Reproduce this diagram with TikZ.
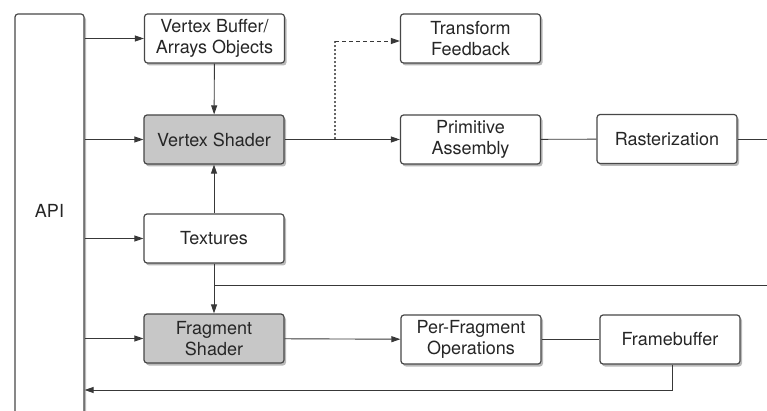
\documentclass[tikz,border=0pt]{standalone}
\usepackage{fontspec}
\setmainfont{TeX Gyre Heros}
\usetikzlibrary{arrows.meta,shadows}
\begin{document}
\begin{tikzpicture}[x=1pt,y=-1pt,
  box/.style={draw=black!72, line width=1.2pt, rounded corners=3pt, fill=white,
    minimum width=140pt, minimum height=49pt, inner sep=2pt, align=center,
    font=\fontsize{18}{21}\selectfont, text=black!85,
    drop shadow={shadow xshift=2pt, shadow yshift=-2.5pt, opacity=0.45, fill=black!60}},
  shaded/.style={box, fill=black!22},
  link/.style={draw=black!78, line width=0.9pt},
  arr/.style={link, -{Triangle[length=9pt,width=6pt]}},
]
\useasboundingbox (0,0) rectangle (767,411);
\clip (0,0) rectangle (767,411);

% API column (runs past the lower edge)
\node[box, minimum width=69pt, minimum height=420pt,
      label={[font=\fontsize{18}{21}\selectfont, text=black!85, yshift=13pt]center:API}]
      (api) at (49.5,224) {};

% left column
\node[box]    (vbo) at (214.5,38.5)  {Vertex Buffer/\\Arrays Objects};
\node[shaded] (vs)  at (214,139.5)   {Vertex Shader};
\node[box]    (tex) at (214,238.5)   {Textures};
\node[shaded] (fs)  at (214,338.5)   {Fragment\\Shader};

% right part of the pipeline
\node[box] (tf)   at (470.5,38.5)  {Transform\\Feedback};
\node[box] (pa)   at (470.5,139.5) {Primitive\\Assembly};
\node[box] (rast) at (667,139)     {Rasterization};
\node[box] (pfo)  at (471,339.5)   {Per-Fragment\\Operations};
\node[box] (fb)   at (670,339.5)   {Framebuffer};

% helper points
\coordinate (split)  at (335,139.5);
\coordinate (bend)   at (335,41);
\coordinate (rout)   at (775,139);
\coordinate (join)   at (214,285);
\coordinate (rin)    at (775,285);
\coordinate (fbturn) at (672,390);

% API feeds
\draw[arr] (api.east |- vbo) -- (vbo);
\draw[arr] (api.east |- vs)  -- (vs);
\draw[arr] (api.east |- tex) -- (tex);
\draw[arr] (api.east |- fs)  -- (fs);

% vertex path
\draw[arr] (vbo) -- (vs);
\draw[arr] (tex) -- (vs);
\draw[arr] (vs) -- (pa);
\draw[link, line width=1.2pt, draw=black!60, dash pattern=on 2pt off 2pt] (split) -- (bend);
\draw[arr, dash pattern=on 4pt off 3pt] (bend) -- (tf.west |- bend);
\draw[link] (pa) -- (rast);
\draw[link] (rast) -- (rout);

% fragment path
\draw[link] (rin) -- (join);
\draw[arr] (tex) -- (fs);
\draw[arr] (fs) -- (pfo);
\draw[link] (pfo) -- (fb);
\draw[arr] (fb.south -| fbturn) -- (fbturn) -- (api.east |- fbturn);
\end{tikzpicture}
\end{document}
